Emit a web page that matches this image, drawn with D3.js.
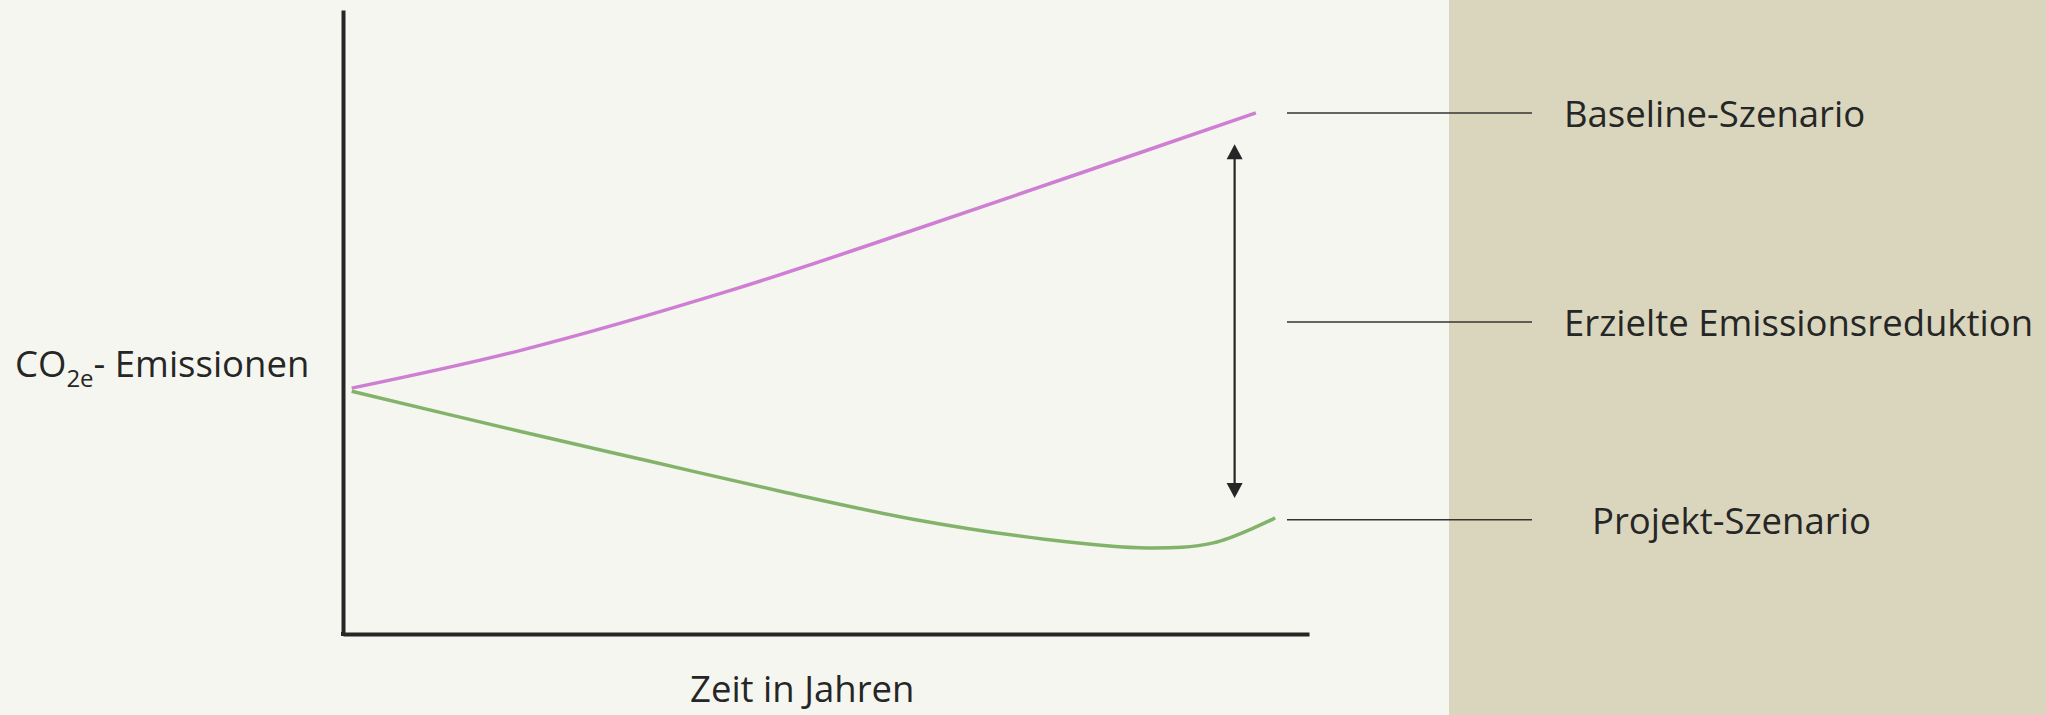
<!DOCTYPE html>
<html><head><meta charset="utf-8">
<script src="https://cdn.jsdelivr.net/npm/d3@7"></script>
<style>html,body{margin:0;padding:0;background:#f5f6f0;overflow:hidden}</style>
</head><body>
<svg id="c" width="2046" height="715"></svg>
<script>
// ---- data (time in arbitrary years, emissions in arbitrary units) ----
const baselineT = [0.09, 1.85, 4.02, 5.90, 7.66, 9.45];
const baselineV = [39.4, 45.5, 55.1, 64.7, 74.0, 83.5];
const projectT  = [0.09, 1.85, 3.20, 4.55, 5.90, 7.26, 8.33, 9.01, 9.65];
const projectV  = [38.9, 32.4, 27.6, 22.8, 18.4, 15.2, 13.8, 14.6, 18.6];
const reductionT = 9.23;
const reductionRange = [21.8, 78.5];
const legendLabels = ["Baseline-Szenario", "Erzielte Emissionsreduktion", "Projekt-Szenario"];
const legendV = [83.5, 50, 18.3];
const xLabel = "Zeit in Jahren";
const yLabelMain = "CO", yLabelSub = "2e", yLabelRest = "- Emissionen";

const svg = d3.select("#c");
const W = 2046, H = 715;
const FONT = "'Open Sans', sans-serif";
const FS = 36.5;
const TXT = "#262626";

svg.append("rect").attr("x",0).attr("y",0).attr("width",W).attr("height",H).attr("fill","#f5f6f0");
svg.append("rect").attr("x",1449).attr("y",0).attr("width",W-1449).attr("height",H).attr("fill","#dad6bd");

const x = d3.scaleLinear().domain([0,10]).range([343,1309]);
const y = d3.scaleLinear().domain([0,100]).range([634,10]);

// axes
const gx = svg.append("g").attr("transform","translate(0,634)")
  .call(d3.axisBottom(x).ticks(0).tickSizeOuter(0));
const gy = svg.append("g").attr("transform","translate(343,0)")
  .call(d3.axisLeft(y).ticks(0).tickSizeOuter(0));
[gx,gy].forEach(g=>{g.select(".domain").attr("stroke","#262626").attr("stroke-width",4);g.selectAll(".tick").remove();});
svg.append("rect").attr("x",341).attr("y",632).attr("width",4).attr("height",4).attr("fill","#262626");

const line = d3.line().x(d=>x(d[0])).y(d=>y(d[1])).curve(d3.curveCatmullRom.alpha(0.5));
svg.append("path").datum(d3.zip(baselineT, baselineV)).attr("d", line)
  .attr("fill","none").attr("stroke","#cf7fd3").attr("stroke-width",3.5);
svg.append("path").datum(d3.zip(projectT, projectV)).attr("d", line)
  .attr("fill","none").attr("stroke","#83b36b").attr("stroke-width",3.5);

// double arrow
const ax = x(reductionT), yTop = y(reductionRange[1]), yBot = y(reductionRange[0]);
const ah = 15, aw = 8;
svg.append("line").attr("x1",ax).attr("x2",ax).attr("y1",yTop+ah-2).attr("y2",yBot-ah+2)
  .attr("stroke","#262626").attr("stroke-width",2.2);
svg.append("path").attr("d",`M${ax},${yTop}L${ax-aw},${yTop+ah}L${ax+aw},${yTop+ah}Z`).attr("fill","#262626");
svg.append("path").attr("d",`M${ax},${yBot}L${ax-aw},${yBot-ah}L${ax+aw},${yBot-ah}Z`).attr("fill","#262626");

// leader lines & legend labels
const legX = [1564, 1564, 1592];
legendLabels.forEach((t,i)=>{
  const yy = y(legendV[i]);
  svg.append("line").attr("x1",1287).attr("x2",1532).attr("y1",yy).attr("y2",yy)
    .attr("stroke","#333").attr("stroke-width",1.4);
  svg.append("text").attr("x",legX[i]).attr("y",yy+14).text(t)
    .attr("font-family",FONT).attr("font-size",FS).attr("fill",TXT);
});

// axis titles
svg.append("text").attr("x",690).attr("y",702).text(xLabel)
  .attr("font-family",FONT).attr("font-size",FS).attr("fill",TXT);
const yt = svg.append("text").attr("x",15).attr("y",377)
  .attr("font-family",FONT).attr("font-size",FS).attr("fill",TXT);
yt.append("tspan").text(yLabelMain);
yt.append("tspan").text(yLabelSub).attr("font-size",24).attr("dy",10);
yt.append("tspan").text(yLabelRest).attr("dy",-10);
</script>
</body></html>
